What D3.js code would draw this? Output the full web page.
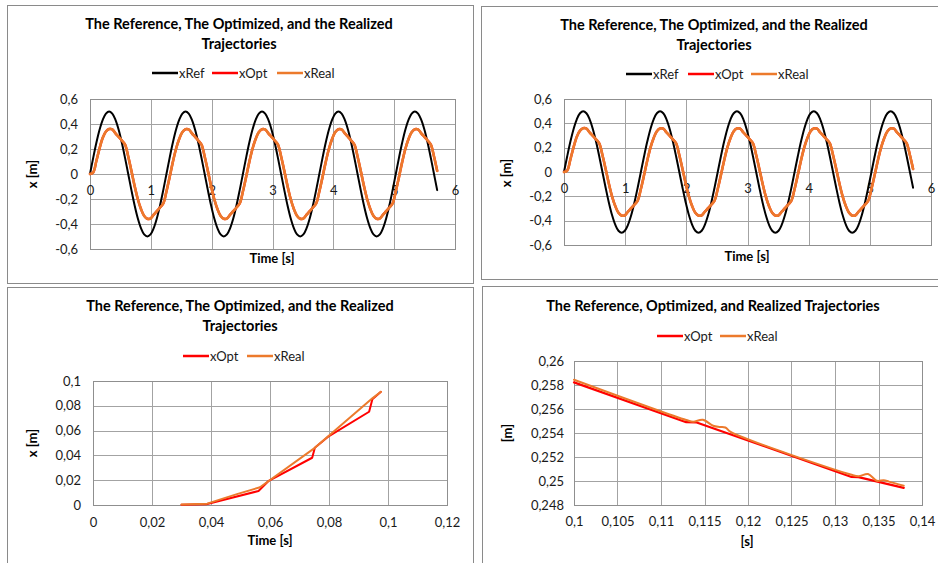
<!DOCTYPE html>
<html>
<head>
<meta charset="utf-8">
<script src="https://cdn.jsdelivr.net/npm/d3@7"></script>
<style>
  body { margin: 0; background: #fff; }
  svg { display: block; font-family: Lato, "Open Sans", sans-serif; }
</style>
</head>
<body>
<svg id="chart" width="938" height="563"></svg>
<script>
// ---- Full run: time samples (24 per reference period) ----
const time = [
  0, 0.0524, 0.1047, 0.1571, 0.2094, 0.2618, 0.3142, 0.3665, 0.4189, 0.4712, 0.5236, 0.5760,
  0.6283, 0.6807, 0.7330, 0.7854, 0.8378, 0.8901, 0.9425, 0.9948, 1.0472, 1.0996, 1.1519, 1.2043,
  1.2566, 1.3090, 1.3614, 1.4137, 1.4661, 1.5184, 1.5708, 1.6232, 1.6755, 1.7279, 1.7802, 1.8326,
  1.8850, 1.9373, 1.9897, 2.0420, 2.0944, 2.1468, 2.1991, 2.2515, 2.3038, 2.3562, 2.4086, 2.4609,
  2.5133, 2.5656, 2.6180, 2.6704, 2.7227, 2.7751, 2.8274, 2.8798, 2.9322, 2.9845, 3.0369, 3.0892,
  3.1416, 3.1940, 3.2463, 3.2987, 3.3510, 3.4034, 3.4558, 3.5081, 3.5605, 3.6128, 3.6652, 3.7176,
  3.7699, 3.8223, 3.8746, 3.9270, 3.9794, 4.0317, 4.0841, 4.1364, 4.1888, 4.2412, 4.2935, 4.3459,
  4.3982, 4.4506, 4.5029, 4.5553, 4.6077, 4.6600, 4.7124, 4.7647, 4.8171, 4.8695, 4.9218, 4.9742,
  5.0265, 5.0789, 5.1313, 5.1836, 5.2360, 5.2883, 5.3407, 5.3931, 5.4454, 5.4978, 5.5501, 5.6025,
  5.6549, 5.7072
];

const xRef = [
  0, 0.129, 0.25, 0.354, 0.433, 0.483, 0.5, 0.483, 0.433, 0.354, 0.25, 0.129,
  0, -0.129, -0.25, -0.354, -0.433, -0.483, -0.5, -0.483, -0.433, -0.354, -0.25, -0.129,
  0, 0.129, 0.25, 0.354, 0.433, 0.483, 0.5, 0.483, 0.433, 0.354, 0.25, 0.129,
  0, -0.129, -0.25, -0.354, -0.433, -0.483, -0.5, -0.483, -0.433, -0.354, -0.25, -0.129,
  0, 0.129, 0.25, 0.354, 0.433, 0.483, 0.5, 0.483, 0.433, 0.354, 0.25, 0.129,
  0, -0.129, -0.25, -0.354, -0.433, -0.483, -0.5, -0.483, -0.433, -0.354, -0.25, -0.129,
  0, 0.129, 0.25, 0.354, 0.433, 0.483, 0.5, 0.483, 0.433, 0.354, 0.25, 0.129,
  0, -0.129, -0.25, -0.354, -0.433, -0.483, -0.5, -0.483, -0.433, -0.354, -0.25, -0.129,
  0, 0.129, 0.25, 0.354, 0.433, 0.483, 0.5, 0.483, 0.433, 0.354, 0.25, 0.129,
  0, -0.129
];

const xOpt = [
  0, 0.012, 0.104, 0.205, 0.29, 0.34, 0.36, 0.357, 0.325, 0.297, 0.268, 0.236,
  0.14, 0.025, -0.095, -0.2, -0.28, -0.335, -0.358, -0.356, -0.325, -0.297, -0.268, -0.236,
  -0.14, -0.025, 0.095, 0.2, 0.28, 0.335, 0.358, 0.356, 0.325, 0.297, 0.268, 0.236,
  0.14, 0.025, -0.095, -0.2, -0.28, -0.335, -0.358, -0.356, -0.325, -0.297, -0.268, -0.236,
  -0.14, -0.025, 0.095, 0.2, 0.28, 0.335, 0.358, 0.356, 0.325, 0.297, 0.268, 0.236,
  0.14, 0.025, -0.095, -0.2, -0.28, -0.335, -0.358, -0.356, -0.325, -0.297, -0.268, -0.236,
  -0.14, -0.025, 0.095, 0.2, 0.28, 0.335, 0.358, 0.356, 0.325, 0.297, 0.268, 0.236,
  0.14, 0.025, -0.095, -0.2, -0.28, -0.335, -0.358, -0.356, -0.325, -0.297, -0.268, -0.236,
  -0.14, -0.025, 0.095, 0.2, 0.28, 0.335, 0.358, 0.356, 0.325, 0.297, 0.268, 0.236,
  0.14, 0.025
];

const xReal = [
  0, 0.012, 0.104, 0.205, 0.29, 0.34, 0.36, 0.357, 0.325, 0.297, 0.268, 0.236,
  0.14, 0.025, -0.095, -0.2, -0.28, -0.335, -0.358, -0.356, -0.325, -0.297, -0.268, -0.236,
  -0.14, -0.025, 0.095, 0.2, 0.28, 0.335, 0.358, 0.356, 0.325, 0.297, 0.268, 0.236,
  0.14, 0.025, -0.095, -0.2, -0.28, -0.335, -0.358, -0.356, -0.325, -0.297, -0.268, -0.236,
  -0.14, -0.025, 0.095, 0.2, 0.28, 0.335, 0.358, 0.356, 0.325, 0.297, 0.268, 0.236,
  0.14, 0.025, -0.095, -0.2, -0.28, -0.335, -0.358, -0.356, -0.325, -0.297, -0.268, -0.236,
  -0.14, -0.025, 0.095, 0.2, 0.28, 0.335, 0.358, 0.356, 0.325, 0.297, 0.268, 0.236,
  0.14, 0.025, -0.095, -0.2, -0.28, -0.335, -0.358, -0.356, -0.325, -0.297, -0.268, -0.236,
  -0.14, -0.025, 0.095, 0.2, 0.28, 0.335, 0.358, 0.356, 0.325, 0.297, 0.268, 0.236,
  0.14, 0.025
];

// ---- Start-up detail ----
const startTimeOpt = [0.030, 0.0384, 0.0561, 0.0594, 0.0743, 0.0752, 0.0800, 0.0936, 0.0947, 0.0976];
const startOpt     = [0.0003, 0.0006, 0.0113, 0.0192, 0.0381, 0.0461, 0.0556, 0.0752, 0.0852, 0.0913];
const startTimeReal = [0.030, 0.0387, 0.0488, 0.0566, 0.0752, 0.0947, 0.0976];
const startReal     = [0.0004, 0.0011, 0.0088, 0.0143, 0.0461, 0.0860, 0.0913];

// ---- Detail between 0.1 s and 0.14 s ----
const detailTimeOpt = [0.1, 0.1129, 0.1141, 0.1319, 0.1327, 0.1379];
const detailOpt     = [0.25822, 0.25490, 0.25488, 0.25034, 0.25032, 0.24943];
const detailTimeReal = [0.1, 0.1129, 0.1137, 0.1148, 0.1160, 0.1167, 0.1174, 0.1180,
                        0.1318, 0.1327, 0.1338, 0.1348, 0.1356, 0.1362, 0.1379];
const detailReal     = [0.25844, 0.25508, 0.25494, 0.25510, 0.25460, 0.25450, 0.25446, 0.25410,
                        0.25054, 0.25040, 0.25058, 0.25002, 0.25006, 0.24995, 0.24960];

// ---- Tick values ----
const ticksTimeFull = [0, 1, 2, 3, 4, 5, 6];
const ticksXFull = [-0.6, -0.4, -0.2, 0, 0.2, 0.4, 0.6];
const ticksTimeStart = [0, 0.02, 0.04, 0.06, 0.08, 0.1, 0.12];
const ticksXStart = [0, 0.02, 0.04, 0.06, 0.08, 0.1];
const ticksTimeDetail = [0.1, 0.105, 0.11, 0.115, 0.12, 0.125, 0.13, 0.135, 0.14];
const ticksXDetail = [0.248, 0.25, 0.252, 0.254, 0.256, 0.258, 0.26];

const titleLong = ["The Reference, The Optimized, and the Realized", "Trajectories"];
const titleShort = ["The Reference, Optimized, and Realized Trajectories"];

const COLORS = { xRef: "#000000", xOpt: "#ff0000", xReal: "#ec7a2c" };

const fmt = d3.formatLocale({
  decimal: ",", thousands: " ", grouping: [3], currency: ["", ""], minus: "-"
}).format("~g");

const svg = d3.select("#chart");

function zip(ts, vs) { return ts.map((t, i) => ({ t, v: vs[i] })); }

function drawPanel(cfg) {
  const g = svg.append("g");
  const p = cfg.plot;

  // outer frame
  g.append("rect")
    .attr("x", cfg.frame[0] + 0.5).attr("y", cfg.frame[1] + 0.5)
    .attr("width", cfg.frame[2]).attr("height", cfg.frame[3])
    .attr("fill", "#fff").attr("stroke", "#8a8a8a").attr("stroke-width", 1);

  const x = d3.scaleLinear().domain(cfg.xDomain).range([p.left, p.right]);
  const y = d3.scaleLinear().domain(cfg.yDomain).range([p.bottom, p.top]);

  // grid
  g.append("g").selectAll("line").data(cfg.yTicks).join("line")
    .attr("x1", p.left).attr("x2", p.right)
    .attr("y1", d => Math.round(y(d)) + 0.5).attr("y2", d => Math.round(y(d)) + 0.5)
    .attr("stroke", "#a3a3a3").attr("stroke-width", 1);
  g.append("g").selectAll("line").data(cfg.xTicks).join("line")
    .attr("y1", p.top).attr("y2", p.bottom)
    .attr("x1", d => Math.round(x(d)) + 0.5).attr("x2", d => Math.round(x(d)) + 0.5)
    .attr("stroke", "#a3a3a3").attr("stroke-width", 1);
  g.append("rect")
    .attr("x", p.left + 0.5).attr("y", p.top + 0.5)
    .attr("width", p.right - p.left).attr("height", p.bottom - p.top)
    .attr("fill", "none").attr("stroke", "#8f8f8f");

  // axes (labels only)
  const ya = g.append("g").attr("transform", `translate(${cfg.yLabelRight},0)`)
    .call(d3.axisLeft(y).tickValues(cfg.yTicks).tickFormat(fmt).tickSize(0).tickPadding(0));
  const xa = g.append("g").attr("transform", `translate(0,${cfg.xLabelTop})`)
    .call(d3.axisBottom(x).tickValues(cfg.xTicks).tickFormat(fmt).tickSize(0).tickPadding(0));
  [ya, xa].forEach(a => {
    a.select(".domain").remove();
    a.attr("font-family", null).attr("font-size", null);
    a.selectAll("text").attr("fill", "#1a1a1a").style("font-size", "13px");
  });

  // series
  const line = d3.line().x(d => x(d.t)).y(d => y(d.v));
  cfg.series.forEach(s => {
    line.curve(s.curve || d3.curveLinear);
    g.append("path").datum(zip(s.t, s.v))
      .attr("d", line)
      .attr("fill", "none").attr("stroke", COLORS[s.name])
      .attr("stroke-width", s.width).attr("stroke-linejoin", "round").attr("stroke-linecap", "round");
  });

  // title
  cfg.title.forEach((txt, i) => {
    g.append("text").attr("x", cfg.titleX).attr("y", cfg.titleY + i * 20)
      .attr("text-anchor", "middle").style("font-size", "14.5px").style("font-weight", 700)
      .attr("fill", "#000").text(txt);
  });

  // legend
  cfg.legend.forEach(item => {
    g.append("line").attr("x1", item.x).attr("x2", item.x + 26)
      .attr("y1", cfg.legendY).attr("y2", cfg.legendY)
      .attr("stroke", COLORS[item.name]).attr("stroke-width", 2.5);
    g.append("text").attr("x", item.x + 27).attr("y", cfg.legendY).attr("dy", "0.35em")
      .style("font-size", "13px").attr("fill", "#1a1a1a").text(item.name);
  });

  // axis titles
  g.append("text").attr("x", cfg.xTitle[0]).attr("y", cfg.xTitle[1])
    .attr("text-anchor", "middle").style("font-size", "13px").style("font-weight", 700)
    .text(cfg.xTitleText);
  g.append("text").attr("transform", `translate(${cfg.yTitle[0]},${cfg.yTitle[1]}) rotate(-90)`)
    .attr("text-anchor", "middle").attr("dy", "0.35em")
    .style("font-size", "13px").style("font-weight", 700).text(cfg.yTitleText);
}

const fullSeries = [
  { name: "xRef", t: time, v: xRef, width: 2, curve: d3.curveCatmullRom },
  { name: "xOpt", t: time, v: xOpt, width: 2.4, curve: d3.curveCatmullRom },
  { name: "xReal", t: time, v: xReal, width: 2.6, curve: d3.curveCatmullRom }
];

drawPanel({
  frame: [7, 5, 466, 278],
  plot: { left: 90, right: 455, top: 99, bottom: 249 },
  xDomain: [0, 6], yDomain: [-0.6, 0.6],
  xTicks: ticksTimeFull, yTicks: ticksXFull,
  yLabelRight: 78, xLabelTop: 186,
  series: fullSeries,
  title: titleLong, titleX: 239, titleY: 29,
  legendY: 73,
  legend: [{ name: "xRef", x: 152 }, { name: "xOpt", x: 212 }, { name: "xReal", x: 277 }],
  xTitle: [272, 263], xTitleText: "Time [s]",
  yTitle: [32, 174], yTitleText: "x [m]"
});

drawPanel({
  frame: [481, 6, 470, 273],
  plot: { left: 564, right: 931, top: 99, bottom: 245 },
  xDomain: [0, 6], yDomain: [-0.6, 0.6],
  xTicks: ticksTimeFull, yTicks: ticksXFull,
  yLabelRight: 552, xLabelTop: 184,
  series: fullSeries,
  title: titleLong, titleX: 714, titleY: 30,
  legendY: 74,
  legend: [{ name: "xRef", x: 626 }, { name: "xOpt", x: 688 }, { name: "xReal", x: 751 }],
  xTitle: [747, 261], xTitleText: "Time [s]",
  yTitle: [506, 173], yTitleText: "x [m]"
});

drawPanel({
  frame: [7, 287, 466, 290],
  plot: { left: 93, right: 447, top: 381, bottom: 505 },
  xDomain: [0, 0.12], yDomain: [0, 0.1],
  xTicks: ticksTimeStart, yTicks: ticksXStart,
  yLabelRight: 81, xLabelTop: 518,
  series: [
    { name: "xOpt", t: startTimeOpt, v: startOpt, width: 2 },
    { name: "xReal", t: startTimeReal, v: startReal, width: 2 }
  ],
  title: titleLong, titleX: 240, titleY: 311,
  legendY: 356,
  legend: [{ name: "xOpt", x: 183 }, { name: "xReal", x: 247 }],
  xTitle: [270, 545], xTitleText: "Time [s]",
  yTitle: [32, 443], yTitleText: "x [m]"
});

drawPanel({
  frame: [482, 286, 470, 290],
  plot: { left: 574, right: 922, top: 361, bottom: 505 },
  xDomain: [0.1, 0.14], yDomain: [0.248, 0.26],
  xTicks: ticksTimeDetail, yTicks: ticksXDetail,
  yLabelRight: 564, xLabelTop: 517,
  series: [
    { name: "xOpt", t: detailTimeOpt, v: detailOpt, width: 2.2 },
    { name: "xReal", t: detailTimeReal, v: detailReal, width: 2, curve: d3.curveCatmullRom }
  ],
  title: titleShort, titleX: 713, titleY: 311,
  legendY: 336,
  legend: [{ name: "xOpt", x: 657 }, { name: "xReal", x: 720 }],
  xTitle: [747, 546], xTitleText: "[s]",
  yTitle: [507, 433], yTitleText: "[m]"
});
</script>
</body>
</html>
